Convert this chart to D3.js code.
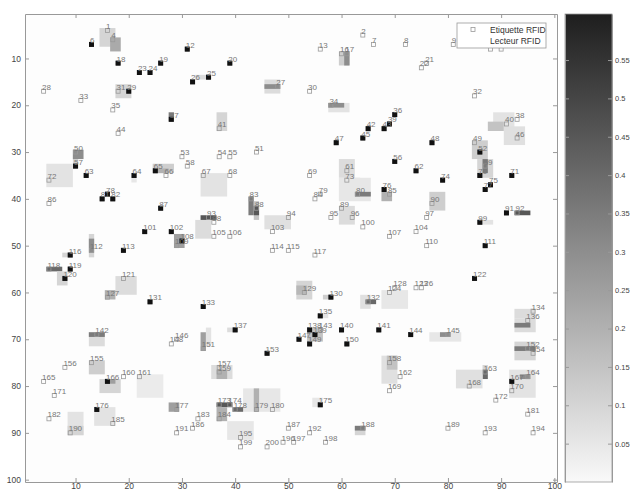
<!DOCTYPE html>
<html>
<head>
<meta charset="utf-8">
<script src="https://cdn.jsdelivr.net/npm/d3@7"></script>
<style>
  body { margin: 0; background: #fff; }
  text { font-family: "Liberation Sans", Arial, sans-serif; }
</style>
</head>
<body>
<div id="chart"></div>
<script>
// tag id, grid column, grid row
var tags = [
  [1,16,4],[2,64,5],[4,17,6],[6,13,7],[7,66,7],[8,72,7],[9,81,7],[10,88,8],[11,90,8],
  [12,31,8],[13,56,8],[16,60,9],[17,61,9],[18,18,11],[19,26,11],[20,39,11],[21,76,11],
  [22,75,12],[23,22,13],[24,24,13],[25,35,14],[26,32,15],[27,48,16],[28,4,17],[29,20,17],
  [30,54,17],[31,18,17],[32,85,18],[33,11,19],[34,58,20],[35,17,21],[36,70,22],[37,28,23],
  [38,93,23],[39,69,24],[40,91,24],[41,37,25],[42,65,25],[43,68,25],[44,18,26],[45,64,27],
  [46,93,27],[47,59,28],[48,77,28],[49,85,28],[50,10,30],[51,44,30],[52,86,30],[53,30,31],
  [54,37,31],[55,39,31],[56,70,32],[57,10,33],[58,31,33],[59,87,33],[61,61,34],[62,74,34],
  [63,12,35],[64,21,35],[65,25,34],[66,27,35],[67,34,35],[68,39,35],[69,54,35],[70,86,35],
  [71,92,35],[72,5,36],[73,61,36],[74,79,36],[75,88,37],[76,68,38],[77,87,38],[78,16,39],
  [79,56,39],[80,63,39],[81,15,40],[82,17,40],[83,43,40],[84,55,40],[85,69,39],[86,5,41],
  [87,26,42],[88,44,42],[89,60,42],[90,77,41],[91,91,43],[92,93,43],[93,35,44],[94,50,44],
  [95,58,44],[96,62,44],[97,76,44],[98,36,45],[99,86,45],[100,64,46],[101,23,47],[102,28,47],
  [103,47,47],[104,74,47],[105,36,48],[106,39,48],[107,69,48],[108,30,49],[109,29,50],
  [110,76,50],[111,87,50],[112,13,51],[113,19,51],[114,47,51],[115,50,51],[116,9,52],
  [117,55,52],[118,5,55],[119,9,55],[120,8,57],[121,19,57],[122,85,57],[123,74,59],
  [124,69,60],[126,75,59],[127,16,61],[128,70,59],[129,53,60],[130,58,61],[131,24,62],
  [132,65,62],[133,34,63],[134,96,64],[135,56,65],[136,95,66],[137,40,68],[138,54,68],
  [139,55,69],[140,60,68],[141,67,68],[142,14,69],[143,56,68],[144,73,69],[145,80,69],
  [146,29,70],[147,52,70],[148,28,71],[149,54,71],[150,61,71],[151,34,72],[152,95,72],
  [153,46,73],[154,96,73],[155,13,75],[156,8,76],[157,37,76],[158,69,75],[159,37,77],
  [160,19,78],[161,22,78],[162,71,78],[163,87,77],[164,95,78],[165,4,79],[166,16,79],
  [167,92,79],[168,84,80],[169,69,81],[170,92,81],[171,6,82],[172,89,83],[173,37,84],
  [174,39,84],[175,56,84],[176,14,85],[177,29,85],[178,40,85],[179,44,85],[180,47,85],
  [181,95,86],[182,5,87],[183,33,87],[184,37,87],[185,17,88],[186,32,89],[187,50,89],
  [188,64,89],[189,80,89],[190,9,90],[191,29,90],[192,54,90],[193,87,90],[194,96,90],
  [195,41,91],[196,49,92],[197,51,92],[198,57,92],[199,41,93],[200,46,93]
];

// tags that are readers
var readers = [6,12,18,19,20,23,24,25,26,29,36,37,39,42,43,45,47,48,52,56,57,62,63,64,65,
  70,71,74,75,76,77,78,81,82,87,91,99,101,102,108,111,113,116,119,120,122,130,131,133,
  135,137,138,139,140,141,144,147,149,150,153,166,167,175,176];

// heatmap cells: column from, column to, row from, row to, value
var patches = [
  [15,17,4,7,0.1],[17,18,6,8,0.22],[18,20,16,18,0.1],[33,35,14,14,0.08],[28,28,22,23,0.35],
  [46,48,15,17,0.08],[46,48,16,16,0.3],[60,61,9,11,0.12],[61,61,9,11,0.3],
  [58,61,20,21,0.06],[58,60,20,20,0.3],[37,38,22,25,0.1],[89,92,22,25,0.06],[88,90,24,25,0.15],
  [91,94,25,28,0.07],[85,87,28,31,0.12],[10,10,30,33,0.1],[10,11,30,31,0.3],[5,9,33,37,0.06],
  [25,28,33,34,0.12],[26,27,34,34,0.2],[34,38,35,39,0.06],[60,62,32,35,0.08],[62,63,36,38,0.08],
  [43,43,40,43,0.35],[44,44,41,44,0.15],[44,44,42,43,0.45],[60,62,42,45,0.08],
  [33,35,45,48,0.08],[34,36,44,44,0.45],[46,50,44,46,0.07],[29,30,48,50,0.25],
  [86,88,32,35,0.1],[87,87,32,34,0.35],[60,65,36,40,0.05],[63,65,39,39,0.35],[68,69,39,40,0.2],
  [77,79,39,42,0.12],[93,95,43,43,0.45],[87,88,45,45,0.06],[13,13,48,52,0.1],[13,13,49,51,0.3],
  [8,9,52,52,0.1],[5,7,55,55,0.4],[7,8,56,58,0.1],[18,21,57,60,0.08],[16,17,60,61,0.2],
  [52,54,58,61,0.1],[52,53,59,60,0.18],[57,57,61,61,0.12],[64,65,61,63,0.07],[65,66,62,62,0.4],
  [68,72,60,63,0.05],[93,96,64,65,0.08],[93,96,66,68,0.08],[93,95,67,67,0.35],
  [13,15,69,71,0.08],[13,15,69,69,0.35],[35,35,68,71,0.06],[34,34,69,72,0.25],[39,39,68,68,0.08],
  [54,56,68,70,0.15],[77,82,69,70,0.05],[79,80,69,69,0.3],[93,96,71,74,0.1],[93,96,72,72,0.35],
  [13,15,75,77,0.12],[15,18,79,81,0.1],[16,17,79,79,0.25],[22,26,78,82,0.04],
  [36,39,76,78,0.08],[37,38,77,78,0.2],[68,70,74,79,0.07],[69,70,74,76,0.15],
  [87,87,76,76,0.1],[87,87,77,78,0.4],[82,86,77,80,0.07],[92,96,77,82,0.06],[94,95,78,78,0.3],
  [14,17,85,88,0.06],[9,11,86,90,0.06],[9,11,89,90,0.1],[28,29,84,85,0.25],
  [42,48,81,85,0.05],[44,44,81,85,0.2],[37,39,84,84,0.45],[40,41,85,85,0.4],[37,38,85,87,0.2],
  [39,43,88,91,0.05],[63,64,89,90,0.1],[63,64,89,89,0.35],[55,56,83,84,0.05],
  [56,57,65,65,0.06],[21,21,35,36,0.05]
];

var axisTicks = [10, 20, 30, 40, 50, 60, 70, 80, 90, 100];
var barTicks = [0.05, 0.1, 0.15, 0.2, 0.25, 0.3, 0.35, 0.4, 0.45, 0.5, 0.55];
var legendLabels = ["Etiquette RFID", "Lecteur RFID"];

function init() {
  var w = 633;
  var h = 491;
  var left = 25, right = 557, top = 14, bottom = 482;
  var barLeft = 565, barRight = 612;

  var x = d3.scaleLinear().domain([0.5, 100.5]).range([left, right]);
  var y = d3.scaleLinear().domain([0.5, 100.5]).range([top, bottom]);
  var colour = d3.scaleLinear().domain([0, 0.61]).range(["#f9f9f9", "#1e1e1e"]);
  var cy = d3.scaleLinear().domain([0, 0.61]).range([bottom, top]);

  var svg = d3.select("#chart")
    .append("svg")
    .attr("width", w)
    .attr("height", h);

  svg.append("rect")
    .attr("x", left).attr("y", top)
    .attr("width", right - left).attr("height", bottom - top)
    .attr("fill", "#fdfdfd");

  // heatmap patches
  svg.append("g").selectAll("rect")
    .data(patches)
    .enter()
    .append("rect")
    .attr("x", function (d) { return x(d[0] - 0.5); })
    .attr("y", function (d) { return y(d[2] - 0.5); })
    .attr("width", function (d) { return x(d[1] + 0.5) - x(d[0] - 0.5); })
    .attr("height", function (d) { return y(d[3] + 0.5) - y(d[2] - 0.5); })
    .attr("fill", function (d) { return colour(d[4]); });

  // tags
  var g = svg.append("g");
  g.selectAll("rect.tag")
    .data(tags)
    .enter()
    .append("rect")
    .attr("class", "tag")
    .attr("x", function (d) { return x(d[1]) - 2; })
    .attr("y", function (d) { return y(d[2]) - 2; })
    .attr("width", 4).attr("height", 4)
    .attr("fill", "none")
    .attr("stroke", "#999")
    .attr("stroke-width", 0.8);

  var readerTags = tags.filter(function (d) { return readers.indexOf(d[0]) >= 0; });
  g.selectAll("rect.reader")
    .data(readerTags)
    .enter()
    .append("rect")
    .attr("class", "reader")
    .attr("x", function (d) { return x(d[1]) - 2.5; })
    .attr("y", function (d) { return y(d[2]) - 2.5; })
    .attr("width", 5).attr("height", 5)
    .attr("fill", "#111");

  g.selectAll("text")
    .data(tags)
    .enter()
    .append("text")
    .attr("x", function (d) { return x(d[1]) - 1.5; })
    .attr("y", function (d) { return y(d[2]) - 1.5; })
    .style("font-size", "8px")
    .style("fill", "#777")
    .text(function (d) { return d[0]; });

  // axes, ticks pointing inward
  function styleAxis(sel) {
    sel.select(".domain").attr("stroke", "#999");
    sel.selectAll(".tick line").attr("stroke", "#999");
    sel.selectAll(".tick text").style("font-size", "8.5px").style("fill", "#444");
  }
  svg.append("g").attr("transform", "translate(0," + bottom + ")")
    .call(d3.axisBottom(x).tickValues(axisTicks).tickSizeInner(-4).tickSizeOuter(0).tickPadding(1))
    .call(styleAxis);
  svg.append("g").attr("transform", "translate(0," + top + ")")
    .call(d3.axisTop(x).tickValues(axisTicks).tickSizeInner(-4).tickSizeOuter(0).tickFormat(""))
    .call(styleAxis);
  svg.append("g").attr("transform", "translate(" + left + ",0)")
    .call(d3.axisLeft(y).tickValues(axisTicks).tickSizeInner(-4).tickSizeOuter(0).tickPadding(4))
    .call(styleAxis);
  svg.append("g").attr("transform", "translate(" + right + ",0)")
    .call(d3.axisRight(y).tickValues(axisTicks).tickSizeInner(-4).tickSizeOuter(0).tickFormat(""))
    .call(styleAxis);

  // legend
  var lg = svg.append("g").attr("transform", "translate(457,23)");
  lg.append("rect").attr("width", 89).attr("height", 25)
    .attr("fill", "#fff").attr("stroke", "#999").attr("stroke-width", 0.8);
  lg.append("rect").attr("x", 14).attr("y", 4.5).attr("width", 4).attr("height", 4)
    .attr("fill", "none").attr("stroke", "#999").attr("stroke-width", 0.8);
  lg.selectAll("text")
    .data(legendLabels)
    .enter()
    .append("text")
    .attr("x", 33)
    .attr("y", function (d, i) { return 10 + i * 11; })
    .style("font-size", "8.5px")
    .style("fill", "#333")
    .text(function (d) { return d; });

  // colour bar
  var grad = svg.append("defs").append("linearGradient")
    .attr("id", "cb").attr("x1", 0).attr("y1", 1).attr("x2", 0).attr("y2", 0);
  d3.range(0, 1.01, 0.1).forEach(function (t) {
    grad.append("stop").attr("offset", t).attr("stop-color", colour(t * 0.61));
  });
  svg.append("rect")
    .attr("x", barLeft).attr("y", top)
    .attr("width", barRight - barLeft).attr("height", bottom - top)
    .attr("fill", "url(#cb)")
    .attr("stroke", "#999").attr("stroke-width", 0.8);
  svg.append("g").attr("transform", "translate(" + barRight + ",0)")
    .call(d3.axisRight(cy).tickValues(barTicks).tickSizeInner(-4).tickSizeOuter(0).tickPadding(3)
      .tickFormat(function (d) { return d3.format("")(+d.toFixed(2)); }))
    .call(styleAxis)
    .call(function (sel) { sel.selectAll(".tick text").style("font-size", "7.5px"); });
  svg.append("g").attr("transform", "translate(" + barLeft + ",0)")
    .call(d3.axisLeft(cy).tickValues(barTicks).tickSizeInner(-4).tickSizeOuter(0).tickFormat(""))
    .call(styleAxis);
}
window.onload = init;
</script>
</body>
</html>
